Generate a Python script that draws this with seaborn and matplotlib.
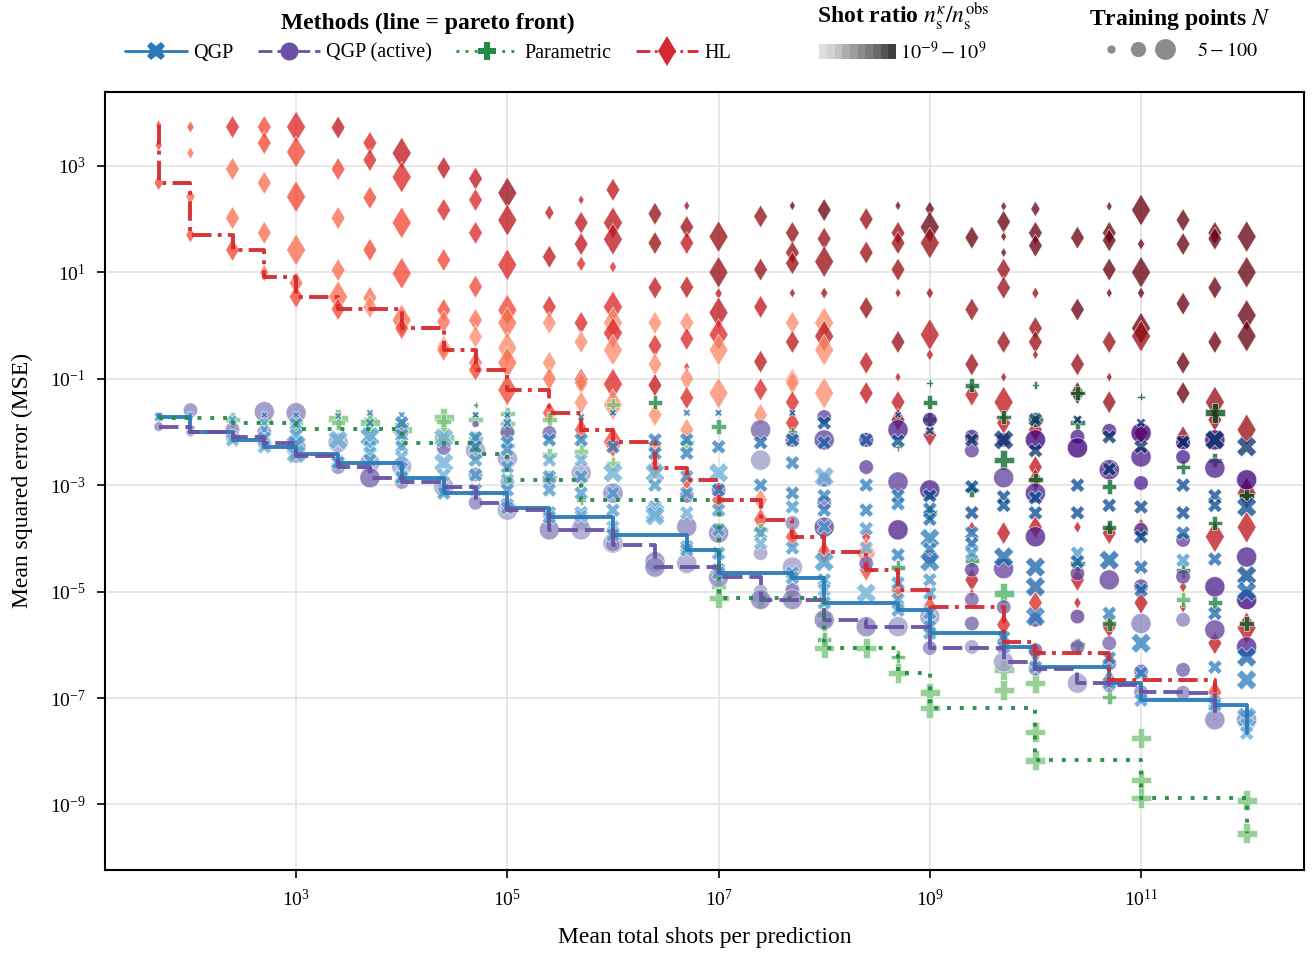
import numpy as np
import pandas as pd
import matplotlib
matplotlib.use("Agg")
import matplotlib.pyplot as plt
import seaborn as sns
from matplotlib.colors import ListedColormap
from matplotlib.lines import Line2D
from matplotlib.patches import Rectangle
from matplotlib.legend_handler import HandlerTuple
from matplotlib.ticker import NullLocator, LogFormatterMathtext

# each row: (mean total shots, log10 MSE, log10 shot ratio, training points N)
hl_points = [
    (5e1, 3.77, -3, 5), (5e1, 3.39, -3, 10), (5e1, 2.68, -3, 20),
    (1e2, 3.73, -3, 10), (1e2, 3.24, -6, 10), (1e2, 2.42, -6, 20), (1e2, 1.70, -3, 20),
    (2.5e2, 3.73, 0, 50), (2.5e2, 2.94, -6, 50), (2.5e2, 2.02, -6, 50), (2.5e2, 1.42, -3, 50),
    (5e2, 3.73, -3, 50), (5e2, 3.43, -3, 50), (5e2, 2.68, -6, 50), (5e2, 1.74, -6, 50), (5e2, 1.0, -6, 20), (5e2, 0.91, -6, 5),
    (1e3, 3.73, 0, 100), (1e3, 3.26, -3, 100), (1e3, 2.42, -3, 100), (1e3, 1.42, -6, 100), (1e3, 0.80, -6, 50), (1e3, 0.54, -3, 50),
    (2.5e3, 3.72, 3, 50), (2.5e3, 2.94, -3, 50), (2.5e3, 2.02, -6, 50), (2.5e3, 1.04, -6, 50), (2.5e3, 0.54, -6, 100), (2.5e3, 0.31, -3, 50),
    (5e3, 3.43, 0, 50), (5e3, 3.11, 0, 50), (5e3, 2.40, -3, 50), (5e3, 1.42, -3, 50), (5e3, 0.52, -6, 50), (5e3, 0.35, -9, 50),
    (1e4, 3.24, 3, 100), (1e4, 2.79, 0, 100), (1e4, 1.93, -3, 100), (1e4, 0.98, -3, 100), (1e4, 0.10, -6, 100), (1e4, -0.05, -3, 50),
    (2.5e4, 2.96, 3, 50), (2.5e4, 2.17, 0, 50), (2.5e4, 1.23, -3, 50), (2.5e4, 0.29, -3, 50), (2.5e4, 0.07, -6, 50), (2.5e4, -0.40, -9, 50), (2.5e4, -0.46, -6, 50),
    (5e4, 2.76, 3, 50), (5e4, 2.36, 0, 50), (5e4, 1.74, 0, 50), (5e4, 0.73, -3, 50), (5e4, 0.10, -6, 50), (5e4, -0.21, -9, 50), (5e4, -0.70, -6, 50), (5e4, -0.83, -3, 50),
    (1e5, 2.49, 6, 100), (1e5, 1.98, 3, 100), (1e5, 1.14, 0, 100), (1e5, 0.29, -3, 100), (1e5, 0.05, -6, 100), (1e5, -0.42, -9, 100), (1e5, -0.70, -6, 100), (1e5, -1.21, -3, 100),
    (2.5e5, 2.12, 3, 20), (2.5e5, 1.29, 3, 50), (2.5e5, 0.35, 0, 50), (2.5e5, 0.05, -9, 50), (2.5e5, -0.70, -9, 50), (2.5e5, -1.0, -6, 50), (2.5e5, -1.64, -3, 50),
    (5e5, 2.36, 3, 5), (5e5, 1.93, 3, 50), (5e5, 1.53, 3, 50), (5e5, 1.16, 0, 20), (5e5, 0.05, 0, 50), (5e5, -0.31, -9, 50), (5e5, -1.02, 0, 50), (5e5, -1.08, -9, 50), (5e5, -1.45, -9, 50), (5e5, -1.96, -3, 50),
    (1e6, 2.55, 3, 50), (1e6, 1.93, 3, 100), (1e6, 1.62, 3, 100), (1e6, 1.10, 0, 10), (1e6, 0.35, 0, 100), (1e6, 0.05, -9, 100), (1e6, -0.14, 0, 100), (1e6, -0.46, -9, 100), (1e6, -1.1, 0, 100), (1e6, -1.49, -9, 100), (1e6, -2.19, -3, 100),
    (2.5e6, 2.10, 6, 50), (2.5e6, 1.55, 6, 50), (2.5e6, 0.71, 3, 50), (2.5e6, 0.05, -9, 50), (2.5e6, -0.38, 0, 50), (2.5e6, -0.73, -9, 50), (2.5e6, -1.12, 3, 50), (2.5e6, -1.68, -9, 50), (2.5e6, -2.28, -9, 50), (2.5e6, -2.68, -3, 50),
    (5e6, 2.25, 6, 5), (5e6, 1.85, 6, 50), (5e6, 1.55, 3, 50), (5e6, 0.72, 3, 50), (5e6, 0.05, -9, 50), (5e6, -0.25, 0, 50), (5e6, -0.78, 0, 5), (5e6, -1.0, -9, 50), (5e6, -1.36, 0, 50), (5e6, -1.96, -9, 50), (5e6, -2.9, -3, 50),
    (1e7, 1.67, 6, 100), (1e7, 1.0, 6, 100), (1e7, 0.6, 3, 10), (1e7, 0.24, 3, 100), (1e7, -0.17, 0, 100), (1e7, -0.46, -9, 100), (1e7, -1.27, -9, 100), (1e7, -3.28, -3, 50),
    (2.5e7, 2.05, 6, 50), (2.5e7, 1.05, 6, 50), (2.5e7, 0.35, 3, 50), (2.5e7, -0.68, 3, 50), (2.5e7, -1.2, 0, 50), (2.5e7, -1.68, -9, 50), (2.5e7, -3.28, -9, 50), (2.5e7, -3.65, -3, 50),
    (5e7, 2.25, 9, 5), (5e7, 1.74, 6, 50), (5e7, 1.37, 6, 50), (5e7, 1.17, 6, 50), (5e7, 0.61, 6, 5), (5e7, 0.05, -9, 50), (5e7, -0.31, 3, 50), (5e7, -1.02, -9, 50), (5e7, -1.08, -9, 50), (5e7, -1.44, 0, 50), (5e7, -1.83, 0, 50), (5e7, -3.97, -3, 50),
    (1e8, 2.17, 9, 50), (1e8, 1.63, 6, 50), (1e8, 1.2, 6, 100), (1e8, 0.61, 6, 10), (1e8, 0.05, -9, 100), (1e8, -0.2, 3, 100), (1e8, -0.46, -9, 100), (1e8, -1.27, -9, 100), (1e8, -4.26, -3, 50),
    (2.5e8, 2.0, 6, 50), (2.5e8, 1.37, 6, 50), (2.5e8, 0.33, 6, 50), (2.5e8, -0.7, 3, 50), (2.5e8, -1.27, 3, 50), (2.5e8, -3.97, 0, 20), (2.5e8, -4.28, -9, 100), (2.5e8, -4.59, -3, 50),
    (5e8, 2.25, 9, 5), (5e8, 1.74, 6, 50), (5e8, 1.55, 6, 50), (5e8, 1.05, 6, 50), (5e8, 0.61, 6, 5), (5e8, -0.31, 6, 50), (5e8, -0.97, 3, 5), (5e8, -1.44, 3, 50), (5e8, -1.77, 6, 50), (5e8, -4.97, -3, 50),
    (1e9, 2.19, 9, 20), (1e9, 1.85, 9, 100), (1e9, 1.55, 6, 100), (1e9, 0.61, 6, 10), (1e9, -0.17, 3, 100), (1e9, -0.55, 3, 10), (1e9, -2.06, 3, 50), (1e9, -5.29, -3, 50),
    (2.5e9, 1.65, 9, 50), (2.5e9, 0.3, 6, 50), (2.5e9, -0.73, 6, 50), (2.5e9, -1.3, 3, 50), (2.5e9, -3.79, 3, 10), (2.5e9, -4.78, 3, 50), (2.5e9, -5.03, 0, 5),
    (5e9, 2.24, 9, 5), (5e9, 1.95, 9, 50), (5e9, 1.67, 9, 5), (5e9, 1.37, 9, 5), (5e9, 1.05, 6, 50), (5e9, 0.71, 6, 50), (5e9, -0.31, 6, 50), (5e9, -0.97, 6, 5), (5e9, -1.44, 3, 100), (5e9, -1.83, 3, 50), (5e9, -3.9, 3, 50), (5e9, -5.62, 0, 50), (5e9, -5.95, -3, 50),
    (1e10, 2.19, 9, 20), (1e10, 1.74, 9, 50), (1e10, 1.5, 9, 50), (1e10, 0.61, 6, 10), (1e10, -0.05, 6, 50), (1e10, -0.31, 6, 50), (1e10, -0.55, 6, 5), (1e10, -1.96, 3, 50), (1e10, -2.66, 3, 50), (1e10, -2.9, 3, 50), (1e10, -3.79, 3, 50), (1e10, -5.21, 0, 50), (1e10, -6.15, -3, 50),
    (2.5e10, 1.65, 9, 50), (2.5e10, 0.3, 9, 50), (2.5e10, -0.73, 6, 50), (2.5e10, -1.27, 9, 50), (2.5e10, -3.79, 3, 10), (2.5e10, -4.78, 3, 50), (2.5e10, -5.21, 3, 10),
    (5e10, 2.24, 9, 5), (5e10, 1.74, 9, 50), (5e10, 1.6, 9, 50), (5e10, 1.05, 9, 50), (5e10, 0.61, 9, 5), (5e10, -0.31, 6, 50), (5e10, -0.97, 6, 5), (5e10, -1.44, 6, 50), (5e10, -3.9, 3, 50), (5e10, -5.66, 3, 50), (5e10, -6.66, -3, 50),
    (1e11, 2.17, 9, 100), (1e11, 1.53, 9, 10), (1e11, 1.0, 9, 100), (1e11, 0.61, 9, 10), (1e11, -0.05, 9, 100), (1e11, -0.2, 6, 100), (1e11, -2.02, 6, 50), (1e11, -3.84, 3, 50), (1e11, -5.21, 3, 50),
    (2.5e11, 1.98, 9, 50), (2.5e11, 1.53, 9, 50), (2.5e11, 0.41, 9, 50), (2.5e11, -0.7, 9, 50), (2.5e11, -1.27, 9, 50), (2.5e11, -2.1, 6, 50), (2.5e11, -4.91, 3, 10), (2.5e11, -5.29, 3, 10),
    (5e11, 1.74, 9, 50), (5e11, 1.63, 9, 50), (5e11, 0.71, 9, 50), (5e11, -0.31, 9, 50), (5e11, -1.44, 6, 100), (5e11, -1.77, 6, 50), (5e11, -3.97, 3, 100), (5e11, -5.97, 3, 50), (5e11, -6.89, -3, 50),
    (1e12, 1.67, 9, 100), (1e12, 1.0, 9, 100), (1e12, 0.19, 9, 100), (1e12, -0.2, 9, 100), (1e12, -1.96, 6, 100), (1e12, -3.15, 6, 100), (1e12, -3.79, 3, 100), (1e12, -5.68, 3, 100),
]

qgp_points = [
    (5e1, -1.68, -3, 10), (5e1, -1.72, -3, 20),
    (1e2, -1.68, -3, 10), (1e2, -1.96, 0, 20), (1e2, -2.0, -3, 10),
    (2.5e2, -1.77, -3, 20), (2.5e2, -2.09, -3, 20), (2.5e2, -2.15, -6, 50),
    (5e2, -1.68, 0, 10), (5e2, -1.83, -3, 20), (5e2, -1.96, -3, 20), (5e2, -2.11, -3, 50), (5e2, -2.28, -6, 50),
    (1e3, -1.68, 0, 10), (1e3, -1.85, -3, 50), (1e3, -2.06, -3, 50), (1e3, -2.24, -3, 100), (1e3, -2.41, -6, 100),
    (2.5e3, -1.70, 0, 10), (2.5e3, -2.15, -6, 100), (2.5e3, -2.56, -3, 50), (2.5e3, -2.58, -3, 50),
    (5e3, -1.64, 0, 10), (5e3, -1.83, 0, 20), (5e3, -2.09, -3, 100), (5e3, -2.28, -3, 50), (5e3, -2.39, -6, 50), (5e3, -2.53, -3, 50),
    (1e4, -1.68, 0, 10), (1e4, -1.83, 0, 50), (1e4, -2.06, -3, 50), (1e4, -2.28, -3, 50), (1e4, -2.47, -6, 50), (1e4, -2.68, -3, 50), (1e4, -2.84, -6, 50), (1e4, -2.86, -3, 50),
    (2.5e4, -2.11, -6, 100), (2.5e4, -2.58, -6, 100), (2.5e4, -2.81, -6, 50), (2.5e4, -3.09, -3, 50), (2.5e4, -3.15, -3, 50),
    (5e4, -1.68, 3, 10), (5e4, -2.11, 0, 50), (5e4, -2.28, 0, 50), (5e4, -2.53, -3, 50), (5e4, -2.81, -3, 50), (5e4, -3.09, -3, 50),
    (1e5, -1.68, 3, 10), (1e5, -1.83, 0, 20), (1e5, -2.2, 0, 50), (1e5, -2.33, -3, 50), (1e5, -2.66, -3, 50), (1e5, -2.9, -6, 50), (1e5, -3.09, -3, 50), (1e5, -3.37, -3, 50), (1e5, -3.43, -3, 50),
    (2.5e5, -2.15, 0, 50), (2.5e5, -2.53, -6, 50), (2.5e5, -2.84, -3, 50), (2.5e5, -3.09, -3, 50), (2.5e5, -3.52, -3, 50), (2.5e5, -3.60, -3, 50),
    (5e5, -1.72, 3, 10), (5e5, -2.15, 0, 50), (5e5, -2.53, -6, 50), (5e5, -2.84, -3, 50), (5e5, -3.15, -3, 50), (5e5, -3.52, -3, 50), (5e5, -3.58, -6, 50),
    (1e6, -1.64, 3, 10), (1e6, -2.28, 0, 50), (1e6, -2.77, -6, 100), (1e6, -3.15, -3, 50), (1e6, -3.47, -3, 50), (1e6, -3.79, -6, 50), (1e6, -3.90, -3, 50), (1e6, -3.94, -3, 50),
    (2.5e6, -2.15, 0, 50), (2.5e6, -2.40, 0, 50), (2.5e6, -2.77, -6, 100), (2.5e6, -3.0, -3, 50), (2.5e6, -3.41, -3, 50), (2.5e6, -3.52, -6, 100), (2.5e6, -3.58, -6, 100),
    (5e6, -1.64, 3, 10), (5e6, -2.15, 0, 50), (5e6, -2.4, 0, 50), (5e6, -2.84, -3, 50), (5e6, -3.15, -3, 50), (5e6, -3.52, -6, 50), (5e6, -4.16, -3, 50), (5e6, -4.22, -3, 50),
    (1e7, -1.64, 3, 10), (1e7, -2.28, 0, 50), (1e7, -2.77, -6, 100), (1e7, -3.09, 0, 50), (1e7, -3.47, -3, 50), (1e7, -3.84, -3, 50), (1e7, -4.28, -3, 50), (1e7, -4.59, -3, 50), (1e7, -4.65, -3, 50),
    (2.5e7, -2.2, 3, 50), (2.5e7, -3.0, 0, 50), (2.5e7, -3.9, -3, 50), (2.5e7, -4.09, -6, 50),
    (5e7, -1.64, 6, 10), (5e7, -2.15, 3, 50), (5e7, -2.58, 0, 50), (5e7, -3.15, 0, 50), (5e7, -3.41, -3, 50), (5e7, -4.18, -3, 50), (5e7, -4.65, -3, 50), (5e7, -4.74, -3, 50),
    (1e8, -1.83, 6, 50), (1e8, -2.2, 3, 50), (1e8, -2.84, -6, 100), (1e8, -3.2, 0, 50), (1e8, -3.47, 0, 50), (1e8, -3.78, -3, 50), (1e8, -4.44, -3, 100), (1e8, -4.78, -3, 50), (1e8, -4.97, -6, 50), (1e8, -5.21, -3, 50),
    (2.5e8, -2.15, 3, 50), (2.5e8, -3.0, 0, 50), (2.5e8, -3.47, 0, 50), (2.5e8, -3.82, -3, 50), (2.5e8, -4.18, -6, 50), (2.5e8, -5.03, -6, 100),
    (5e8, -1.68, 6, 10), (5e8, -2.17, 6, 50), (5e8, -3.2, 3, 50), (5e8, -3.35, 0, 50), (5e8, -4.31, 0, 50), (5e8, -4.84, -3, 50), (5e8, -5.15, -3, 50), (5e8, -5.35, -3, 50),
    (1e9, -1.98, 6, 20), (1e9, -3.2, 6, 50), (1e9, -3.45, 3, 50), (1e9, -3.64, 3, 50), (1e9, -4.0, 0, 100), (1e9, -4.2, 0, 50), (1e9, -4.44, 0, 100), (1e9, -4.78, -3, 50), (1e9, -5.03, -3, 50), (1e9, -5.4, -3, 50), (1e9, -5.66, -3, 50), (1e9, -5.78, -3, 50),
    (2.5e9, -2.15, 9, 50), (2.5e9, -3.03, 6, 50), (2.5e9, -3.52, 6, 50), (2.5e9, -3.9, 3, 50), (2.5e9, -4.1, 3, 50), (2.5e9, -4.28, -3, 50),
    (5e9, -2.15, 9, 100), (5e9, -3.22, 6, 50), (5e9, -3.38, 6, 50), (5e9, -4.35, 3, 100), (5e9, -5.86, 0, 50), (5e9, -6.04, -3, 50),
    (1e10, -1.77, 9, 50), (1e10, -2.35, 9, 50), (1e10, -3.24, 6, 50), (1e10, -3.52, 6, 50), (1e10, -4.54, 3, 100), (1e10, -4.91, 3, 100), (1e10, -5.47, 0, 100), (1e10, -6.42, -3, 50),
    (2.5e10, -1.77, 9, 20), (2.5e10, -3.0, 6, 50), (2.5e10, -3.52, 6, 50), (2.5e10, -4.28, -3, 50), (2.5e10, -4.44, 3, 50),
    (5e10, -2.09, 9, 50), (5e10, -2.7, 9, 50), (5e10, -3.38, 6, 50), (5e10, -4.41, 3, 100), (5e10, -5.41, 0, 50), (5e10, -6.25, 0, 50), (5e10, -6.72, -3, 50),
    (1e11, -1.83, 9, 20), (1e11, -2.28, 9, 50), (1e11, -3.41, 6, 50), (1e11, -3.97, 6, 50), (1e11, -4.54, 3, 50), (1e11, -4.97, 3, 50), (1e11, -5.97, 0, 100), (1e11, -6.53, 0, 50), (1e11, -7.04, -3, 50),
    (2.5e11, -2.19, 9, 50), (2.5e11, -3.0, 6, 50), (2.5e11, -3.52, 6, 50), (2.5e11, -3.9, 3, 50), (2.5e11, -4.41, -3, 50),
    (5e11, -2.15, 9, 100), (5e11, -3.2, 6, 50), (5e11, -3.38, 6, 50), (5e11, -4.39, 3, 50), (5e11, -5.41, 3, 50), (5e11, -6.42, 0, 50), (5e11, -7.08, -3, 50), (5e11, -7.13, -3, 50),
    (1e12, -2.28, 9, 100), (1e12, -3.41, 6, 100), (1e12, -4.7, 6, 100), (1e12, -5.0, 3, 100), (1e12, -6.23, 3, 100), (1e12, -6.66, 0, 100), (1e12, -7.36, -3, 100), (1e12, -7.5, -6, 50), (1e12, -7.66, -6, 50),
]

active_points = [
    (5e1, -1.9, -3, 20),
    (1e2, -1.59, -3, 50), (1e2, -2.0, -3, 20),
    (2.5e2, -1.95, -3, 50), (2.5e2, -2.09, -3, 50),
    (5e2, -1.62, -3, 100), (5e2, -2.0, -3, 50), (5e2, -2.2, -3, 50),
    (1e3, -1.64, -3, 100), (1e3, -2.3, -3, 100), (1e3, -2.45, -3, 50),
    (2.5e3, -2.2, -6, 100), (2.5e3, -2.66, -3, 50),
    (5e3, -2.58, -6, 100), (5e3, -2.86, 0, 100),
    (1e4, -2.0, -3, 50), (1e4, -2.65, -6, 100), (1e4, -2.94, -3, 50),
    (2.5e4, -2.3, 0, 50), (2.5e4, -3.03, -6, 100),
    (5e4, -1.85, 0, 10), (5e4, -2.35, -6, 100), (5e4, -2.8, -3, 50), (5e4, -3.33, -3, 50),
    (1e5, -2.0, 0, 50), (1e5, -2.5, -6, 100), (1e5, -2.95, -3, 50), (1e5, -3.47, -6, 100),
    (2.5e5, -2.02, 0, 50), (2.5e5, -2.9, -3, 50), (2.5e5, -3.84, -3, 100),
    (5e5, -2.77, -6, 100), (5e5, -3.71, -3, 50), (5e5, -3.84, -6, 100),
    (1e6, -3.15, -3, 100), (1e6, -4.09, -6, 100), (1e6, -4.12, -3, 50),
    (2.5e6, -4.44, -3, 100), (2.5e6, -4.54, -3, 100),
    (5e6, -3.2, 0, 50), (5e6, -3.78, -3, 100), (5e6, -4.47, -6, 100),
    (1e7, -3.09, 0, 50), (1e7, -3.9, -3, 100), (1e7, -4.73, -3, 100),
    (2.5e7, -1.96, 0, 100), (2.5e7, -2.53, -6, 100), (2.5e7, -4.28, -6, 50), (2.5e7, -5.0, -6, 50), (2.5e7, -5.15, -3, 100),
    (5e7, -2.15, 0, 50), (5e7, -3.71, -3, 50), (5e7, -4.54, -6, 100), (5e7, -4.97, 0, 50), (5e7, -5.15, -3, 100),
    (1e8, -1.72, 3, 50), (1e8, -2.15, 3, 100), (1e8, -2.9, 0, 50), (1e8, -3.33, 0, 50), (1e8, -3.79, 3, 100), (1e8, -5.53, -3, 100),
    (2.5e8, -2.15, 6, 50), (2.5e8, -2.66, 3, 50), (2.5e8, -4.47, 0, 50), (2.5e8, -5.66, -3, 100),
    (5e8, -1.96, 6, 100), (5e8, -2.94, 3, 100), (5e8, -3.84, 6, 100), (5e8, -5.66, -6, 100),
    (1e9, -1.77, 6, 50), (1e9, -3.09, 6, 100), (1e9, -4.35, 3, 50), (1e9, -5.47, -6, 100), (1e9, -6.06, -3, 50),
    (2.5e9, -2.09, 6, 50), (2.5e9, -2.35, 3, 50), (2.5e9, -4.59, 3, 50), (2.5e9, -5.15, 0, 50), (2.5e9, -5.6, 0, 50), (2.5e9, -6.04, -6, 50),
    (5e9, -2.15, 6, 50), (5e9, -2.86, 3, 100), (5e9, -4.57, 3, 100), (5e9, -5.29, 0, 50), (5e9, -6.32, -6, 100),
    (1e10, -2.15, 9, 100), (1e10, -3.15, 6, 100), (1e10, -3.97, 6, 100), (1e10, -5.53, 3, 50), (1e10, -6.1, 0, 50), (1e10, -6.45, -3, 50),
    (2.5e10, -2.09, 6, 50), (2.5e10, -2.3, 9, 100), (2.5e10, -4.66, 3, 50), (2.5e10, -5.47, 3, 50), (2.5e10, -6.04, 0, 50), (2.5e10, -6.72, -6, 100),
    (5e10, -1.98, 6, 50), (5e10, -2.71, 6, 100), (5e10, -4.78, 3, 100), (5e10, -5.97, 0, 50), (5e10, -6.35, 0, 50), (5e10, -6.76, -3, 50),
    (1e11, -2.02, 9, 100), (1e11, -2.47, 6, 100), (1e11, -2.96, 6, 50), (1e11, -3.84, 3, 50), (1e11, -4.9, 3, 50), (1e11, -5.6, -3, 100), (1e11, -6.5, 0, 50), (1e11, -6.89, -3, 50),
    (2.5e11, -2.2, 9, 50), (2.5e11, -2.47, 6, 50), (2.5e11, -4.03, 3, 50), (2.5e11, -4.72, 3, 50), (2.5e11, -5.53, -3, 50), (2.5e11, -6.47, 0, 50), (2.5e11, -6.9, -3, 50),
    (5e11, -2.15, 9, 100), (5e11, -2.68, 6, 100), (5e11, -4.91, 6, 100), (5e11, -5.72, 3, 100), (5e11, -7.41, -3, 100),
    (1e12, -2.9, 9, 100), (1e12, -4.35, 6, 100), (1e12, -5.15, 9, 100), (1e12, -6.04, 6, 100), (1e12, -7.41, -3, 100),
]

param_points = [
    (5e1, -1.74, -3, 10),
    (1e2, -1.70, -6, 10),
    (2.5e2, -1.77, -6, 50), (2.5e2, -1.83, -3, 20),
    (5e2, -1.78, -6, 50),
    (1e3, -1.83, -6, 50), (1e3, -1.95, -3, 20),
    (2.5e3, -1.75, -6, 100), (2.5e3, -1.83, -6, 50),
    (5e3, -1.76, -6, 50), (5e3, -1.82, -6, 100),
    (1e4, -1.85, -6, 50), (1e4, -1.95, -6, 100), (1e4, -2.2, -3, 20),
    (2.5e4, -1.73, -6, 100), (2.5e4, -1.8, -6, 50), (2.5e4, -2.1, -6, 100),
    (5e4, -1.49, 3, 5), (5e4, -1.76, -6, 50), (5e4, -2.12, -6, 50), (5e4, -2.42, -3, 20),
    (1e5, -1.66, -6, 50), (1e5, -1.84, -6, 50), (1e5, -2.0, -6, 50), (1e5, -2.25, -6, 50), (1e5, -2.9, -3, 20),
    (2.5e5, -1.77, -6, 50), (2.5e5, -2.43, -6, 50), (2.5e5, -2.85, -6, 50),
    (5e5, -2.37, -6, 50), (5e5, -2.9, -6, 50), (5e5, -3.28, -3, 20),
    (1e6, -1.49, -6, 50), (1e6, -2.6, -6, 50),
    (2.5e6, -1.44, 3, 50), (2.5e6, -2.68, -6, 50),
    (5e6, -2.2, -6, 50),
    (1e7, -1.9, 0, 50), (1e7, -4.91, -6, 50), (1e7, -5.12, -6, 100),
    (2.5e7, -3.84, -6, 50), (2.5e7, -5.12, -6, 100),
    (5e7, -2.0, 0, 20),
    (1e8, -5.43, 0, 50), (1e8, -5.6, -3, 50), (1e8, -5.9, -3, 50), (1e8, -6.06, -6, 100),
    (2.5e8, -6.06, -6, 100),
    (5e8, -2.28, 3, 10), (5e8, -4.54, 0, 50), (5e8, -6.23, -3, 50), (5e8, -6.53, -6, 100),
    (1e9, -1.08, 6, 10), (1e9, -1.44, 6, 50), (1e9, -1.77, 6, 50), (1e9, -3.52, 6, 50), (1e9, -6.9, -6, 100), (1e9, -7.19, -6, 100),
    (2.5e9, -1.12, 6, 50), (2.5e9, -3.09, 6, 50), (2.5e9, -4.41, 0, 50),
    (5e9, -1.72, 6, 50), (5e9, -2.53, 6, 100), (5e9, -5.03, -3, 100), (5e9, -6.47, -6, 100), (5e9, -6.85, -6, 100),
    (1e10, -1.12, 6, 10), (1e10, -1.77, 6, 50), (1e10, -2.9, 6, 50), (1e10, -6.72, -6, 100), (1e10, -7.64, -6, 100), (1e10, -8.17, -6, 100),
    (2.5e10, -1.27, 6, 50), (2.5e10, -1.83, 6, 50), (2.5e10, -4.47, 3, 50), (2.5e10, -6.0, 0, 50),
    (5e10, -3.03, 6, 50), (5e10, -3.79, 6, 50), (5e10, -5.6, 3, 50), (5e10, -6.98, -3, 50),
    (1e11, -1.34, 9, 10), (1e11, -3.9, 6, 50), (1e11, -7.75, -6, 100), (1e11, -8.54, -6, 100), (1e11, -8.88, -6, 100),
    (2.5e11, -2.66, 6, 50), (2.5e11, -4.6, 3, 50), (2.5e11, -5.15, -3, 50),
    (5e11, -1.64, 9, 100), (5e11, -2.53, 6, 50), (5e11, -3.71, 6, 50), (5e11, -5.21, 3, 50),
    (1e12, -3.2, 9, 50), (1e12, -5.6, 6, 50), (1e12, -8.92, -6, 100), (1e12, -9.54, -6, 100),
]

method_names = ["QGP", "QGP (active)", "Parametric", "HL"]
method_points = [qgp_points, active_points, param_points, hl_points]
method_markers = ["X", "o", "P", "d"]
method_cmaps = ["Blues", "Purples", "Greens", "Reds"]
method_colors = ["#2a7ab9", "#6a51a3", "#238b45", "#d42a2f"]
method_lines = ["-", (0, (5, 1.8)), (0, (1, 2.3)), (0, (5, 1.6, 1, 1.6))]


def to_frame(points):
    df = pd.DataFrame(points, columns=["shots", "log_mse", "ratio", "n"])
    df["mse"] = 10.0 ** df["log_mse"]
    return df


def pareto_front(df):
    d = df.sort_values(["shots", "mse"], ascending=[True, False])
    best = np.inf
    keep = []
    for _, row in d.iterrows():
        if row["mse"] < best:
            best = row["mse"]
            keep.append(row)
    return pd.DataFrame(keep)


def shade(name, lo=0.4, hi=1.0):
    return ListedColormap(plt.get_cmap(name)(np.linspace(lo, hi, 256)))


sns.set_theme(style="ticks")
plt.rcParams["font.family"] = ["Liberation Serif", "DejaVu Serif"]
plt.rcParams["mathtext.fontset"] = "stix"
plt.rcParams["text.color"] = "black"
plt.rcParams["axes.labelcolor"] = "black"
plt.rcParams["xtick.color"] = "black"
plt.rcParams["ytick.color"] = "black"

fig = plt.figure(figsize=(13.12, 9.57), dpi=100)
ax = fig.add_axes([0.080, 0.091, 0.914, 0.813])
ax.set_xscale("log")
ax.set_yscale("log")

# scatter, HL at the back
for i in [3, 2, 1, 0]:
    df = to_frame(method_points[i])
    sizes = (25, 260) if method_markers[i] == "d" else (18, 210)
    sns.scatterplot(data=df, x="shots", y="mse", hue="ratio", size="n",
                    palette=shade(method_cmaps[i]), hue_norm=(-9, 9),
                    sizes=sizes, size_norm=(5, 100), marker=method_markers[i],
                    alpha=0.76, edgecolor="white", linewidth=0.5,
                    legend=False, ax=ax, zorder=2)

# pareto fronts on top
for i in range(4):
    front = pareto_front(to_frame(method_points[i]))
    sns.lineplot(x=front["shots"].values, y=front["mse"].values, estimator=None,
                 sort=False, drawstyle="steps-post", color=method_colors[i],
                 linewidth=2.8, linestyle=method_lines[i], alpha=0.95, ax=ax, zorder=4)

ax.set_xlim(15.5, 3.5e12)
ax.set_ylim(10 ** -10.23, 10 ** 4.39)
ax.set_xticks([1e3, 1e5, 1e7, 1e9, 1e11])
ax.set_yticks([1e3, 1e1, 1e-1, 1e-3, 1e-5, 1e-7, 1e-9])
ax.xaxis.set_minor_locator(NullLocator())
ax.yaxis.set_minor_locator(NullLocator())
ax.xaxis.set_major_formatter(LogFormatterMathtext())
ax.yaxis.set_major_formatter(LogFormatterMathtext())
ax.tick_params(axis="both", which="major", direction="out", length=6, width=1.2,
               labelsize=14, pad=8)
ax.grid(True, color="#e3e3e3", linewidth=1.2)
ax.set_axisbelow(True)
for sp in ax.spines.values():
    sp.set_linewidth(1.5)
    sp.set_color("black")
ax.set_xlabel("Mean total shots per prediction", fontsize=17, labelpad=12)
ax.set_ylabel("Mean squared error (MSE)", fontsize=17, labelpad=12)

# legends
method_handles = [Line2D([0], [0], color=method_colors[i], linestyle=method_lines[i], lw=2,
                         marker=method_markers[i], markersize=13 if i != 3 else 15,
                         markeredgewidth=0)
                  for i in range(4)]
leg1 = fig.legend(method_handles, method_names, loc="upper center",
                  bbox_to_anchor=(428 / 1312, 1.006), ncol=4, frameon=False,
                  fontsize=14.5, handlelength=3.1, handletextpad=0.3, columnspacing=1.2,
                  title="Methods (line = pareto front)",
                  title_fontproperties={"weight": "bold", "size": 17})

greys = plt.get_cmap("Greys")
ratio_boxes = tuple(Rectangle((0, 0), 1, 1, facecolor=greys(v), edgecolor="none", alpha=0.85)
                    for v in np.linspace(0.25, 0.9, 10))
leg2 = fig.legend([ratio_boxes], [r"$10^{-9}-10^{9}$"], loc="upper center",
                  bbox_to_anchor=(903 / 1312, 1.019), frameon=False, fontsize=14.5,
                  handlelength=3.8, handleheight=0.8, handletextpad=0.2,
                  handler_map={tuple: HandlerTuple(ndivide=None, pad=0)},
                  title=r"Shot ratio $n_\mathrm{s}^\kappa/n_\mathrm{s}^\mathrm{obs}$",
                  title_fontproperties={"weight": "bold", "size": 17})

size_dots = tuple(Line2D([0], [0], linestyle="none", marker="o", markersize=ms,
                         color="#808080", markeredgewidth=0, alpha=0.9)
                  for ms in [6, 11, 15])
leg3 = fig.legend([size_dots], [r"$5-100$"], loc="upper center",
                  bbox_to_anchor=(1180 / 1312, 1.012), frameon=False, fontsize=14.5,
                  handlelength=3.6, handletextpad=1.1,
                  handler_map={tuple: HandlerTuple(ndivide=None, pad=0.4)},
                  title=r"Training points $N$",
                  title_fontproperties={"weight": "bold", "size": 17})

fig.savefig("out.png", dpi=100)
